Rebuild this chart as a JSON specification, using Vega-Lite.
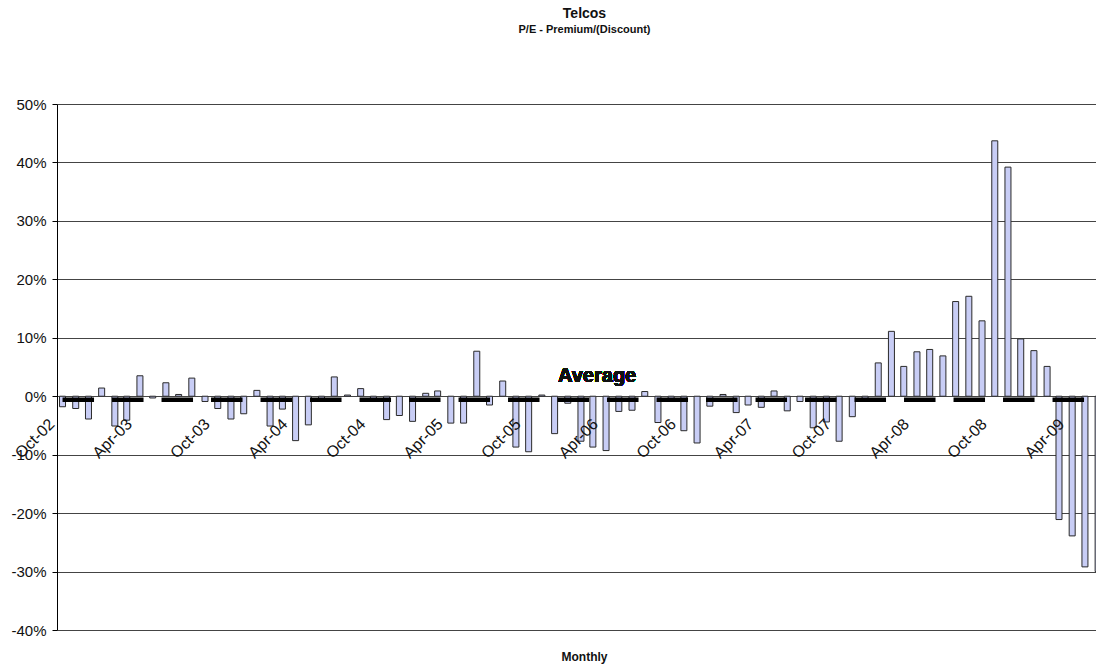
{
  "$schema": "https://vega.github.io/schema/vega-lite/v6.json",
  "width": 1039,
  "height": 526,
  "autosize": {"type": "none"},
  "padding": {"left": 57, "top": 104, "right": 0, "bottom": 35},
  "background": "white",
  "config": {"view": {"stroke": null}, "font": "Liberation Sans"},
  "title": {
    "text": "Telcos",
    "subtitle": "P/E - Premium/(Discount)",
    "anchor": "middle",
    "dx": 8,
    "offset": 62,
    "font": "Liberation Sans",
    "fontSize": 14,
    "fontWeight": "bold",
    "color": "#111",
    "subtitleFont": "Liberation Sans",
    "subtitleFontSize": 11,
    "subtitleFontWeight": "bold",
    "subtitleColor": "#111",
    "subtitlePadding": 3
  },
  "data": {
    "values": [
      {"month": "2002-10-01", "pe": -0.018, "avg": -0.006},
      {"month": "2002-11-01", "pe": -0.021, "avg": -0.006},
      {"month": "2002-12-01", "pe": -0.039, "avg": -0.006},
      {"month": "2003-01-01", "pe": 0.014, "avg": -0.006},
      {"month": "2003-02-01", "pe": -0.051, "avg": -0.006},
      {"month": "2003-03-01", "pe": -0.041, "avg": -0.006},
      {"month": "2003-04-01", "pe": 0.035, "avg": -0.006},
      {"month": "2003-05-01", "pe": -0.003, "avg": -0.006},
      {"month": "2003-06-01", "pe": 0.023, "avg": -0.006},
      {"month": "2003-07-01", "pe": 0.003, "avg": -0.006},
      {"month": "2003-08-01", "pe": 0.031, "avg": -0.006},
      {"month": "2003-09-01", "pe": -0.009, "avg": -0.006},
      {"month": "2003-10-01", "pe": -0.021, "avg": -0.006},
      {"month": "2003-11-01", "pe": -0.039, "avg": -0.006},
      {"month": "2003-12-01", "pe": -0.030, "avg": -0.006},
      {"month": "2004-01-01", "pe": 0.010, "avg": -0.006},
      {"month": "2004-02-01", "pe": -0.051, "avg": -0.006},
      {"month": "2004-03-01", "pe": -0.022, "avg": -0.006},
      {"month": "2004-04-01", "pe": -0.076, "avg": -0.006},
      {"month": "2004-05-01", "pe": -0.049, "avg": -0.006},
      {"month": "2004-06-01", "pe": -0.004, "avg": -0.006},
      {"month": "2004-07-01", "pe": 0.033, "avg": -0.006},
      {"month": "2004-08-01", "pe": 0.002, "avg": -0.006},
      {"month": "2004-09-01", "pe": 0.013, "avg": -0.006},
      {"month": "2004-10-01", "pe": -0.004, "avg": -0.006},
      {"month": "2004-11-01", "pe": -0.040, "avg": -0.006},
      {"month": "2004-12-01", "pe": -0.033, "avg": -0.006},
      {"month": "2005-01-01", "pe": -0.043, "avg": -0.006},
      {"month": "2005-02-01", "pe": 0.005, "avg": -0.006},
      {"month": "2005-03-01", "pe": 0.009, "avg": -0.006},
      {"month": "2005-04-01", "pe": -0.046, "avg": -0.006},
      {"month": "2005-05-01", "pe": -0.046, "avg": -0.006},
      {"month": "2005-06-01", "pe": 0.077, "avg": -0.006},
      {"month": "2005-07-01", "pe": -0.015, "avg": -0.006},
      {"month": "2005-08-01", "pe": 0.026, "avg": -0.006},
      {"month": "2005-09-01", "pe": -0.087, "avg": -0.006},
      {"month": "2005-10-01", "pe": -0.095, "avg": -0.006},
      {"month": "2005-11-01", "pe": 0.002, "avg": -0.006},
      {"month": "2005-12-01", "pe": -0.064, "avg": -0.006},
      {"month": "2006-01-01", "pe": -0.012, "avg": -0.006},
      {"month": "2006-02-01", "pe": -0.077, "avg": -0.006},
      {"month": "2006-03-01", "pe": -0.087, "avg": -0.006},
      {"month": "2006-04-01", "pe": -0.093, "avg": -0.006},
      {"month": "2006-05-01", "pe": -0.026, "avg": -0.006},
      {"month": "2006-06-01", "pe": -0.024, "avg": -0.006},
      {"month": "2006-07-01", "pe": 0.008, "avg": -0.006},
      {"month": "2006-08-01", "pe": -0.045, "avg": -0.006},
      {"month": "2006-09-01", "pe": -0.005, "avg": -0.006},
      {"month": "2006-10-01", "pe": -0.059, "avg": -0.006},
      {"month": "2006-11-01", "pe": -0.080, "avg": -0.006},
      {"month": "2006-12-01", "pe": -0.017, "avg": -0.006},
      {"month": "2007-01-01", "pe": 0.003, "avg": -0.006},
      {"month": "2007-02-01", "pe": -0.028, "avg": -0.006},
      {"month": "2007-03-01", "pe": -0.015, "avg": -0.006},
      {"month": "2007-04-01", "pe": -0.019, "avg": -0.006},
      {"month": "2007-05-01", "pe": 0.009, "avg": -0.006},
      {"month": "2007-06-01", "pe": -0.025, "avg": -0.006},
      {"month": "2007-07-01", "pe": -0.009, "avg": -0.006},
      {"month": "2007-08-01", "pe": -0.054, "avg": -0.006},
      {"month": "2007-09-01", "pe": -0.044, "avg": -0.006},
      {"month": "2007-10-01", "pe": -0.077, "avg": -0.006},
      {"month": "2007-11-01", "pe": -0.035, "avg": -0.006},
      {"month": "2007-12-01", "pe": -0.005, "avg": -0.006},
      {"month": "2008-01-01", "pe": 0.057, "avg": -0.006},
      {"month": "2008-02-01", "pe": 0.111, "avg": -0.006},
      {"month": "2008-03-01", "pe": 0.051, "avg": -0.006},
      {"month": "2008-04-01", "pe": 0.076, "avg": -0.006},
      {"month": "2008-05-01", "pe": 0.080, "avg": -0.006},
      {"month": "2008-06-01", "pe": 0.069, "avg": -0.006},
      {"month": "2008-07-01", "pe": 0.162, "avg": -0.006},
      {"month": "2008-08-01", "pe": 0.171, "avg": -0.006},
      {"month": "2008-09-01", "pe": 0.129, "avg": -0.006},
      {"month": "2008-10-01", "pe": 0.437, "avg": -0.006},
      {"month": "2008-11-01", "pe": 0.392, "avg": -0.006},
      {"month": "2008-12-01", "pe": 0.098, "avg": -0.006},
      {"month": "2009-01-01", "pe": 0.078, "avg": -0.006},
      {"month": "2009-02-01", "pe": 0.051, "avg": -0.006},
      {"month": "2009-03-01", "pe": -0.211, "avg": -0.006},
      {"month": "2009-04-01", "pe": -0.239, "avg": -0.006},
      {"month": "2009-05-01", "pe": -0.292, "avg": -0.006},
      {"month": "2009-06-01", "pe": -0.300, "avg": -0.006}
    ]
  },
  "layer": [
    {
      "mark": {"type": "bar", "size": 6, "fill": "#c8cdf5", "stroke": "#2a2a2a", "strokeWidth": 1, "clip": true},
      "encoding": {
        "x": {
          "field": "month",
          "type": "temporal",
          "scale": {
            "type": "utc",
            "nice": false,
            "padding": 0,
            "domain": [
              {"year": 2002, "month": 9, "date": 18, "utc": true},
              {"year": 2009, "month": 5, "date": 27, "utc": true}
            ]
          },
          "axis": {
            "values": [
              {"year": 2002, "month": 10, "date": 1, "utc": true},
              {"year": 2003, "month": 4, "date": 1, "utc": true},
              {"year": 2003, "month": 10, "date": 1, "utc": true},
              {"year": 2004, "month": 4, "date": 1, "utc": true},
              {"year": 2004, "month": 10, "date": 1, "utc": true},
              {"year": 2005, "month": 4, "date": 1, "utc": true},
              {"year": 2005, "month": 10, "date": 1, "utc": true},
              {"year": 2006, "month": 4, "date": 1, "utc": true},
              {"year": 2006, "month": 10, "date": 1, "utc": true},
              {"year": 2007, "month": 4, "date": 1, "utc": true},
              {"year": 2007, "month": 10, "date": 1, "utc": true},
              {"year": 2008, "month": 4, "date": 1, "utc": true},
              {"year": 2008, "month": 10, "date": 1, "utc": true},
              {"year": 2009, "month": 4, "date": 1, "utc": true}
            ],
            "format": "%b-%y",
            "zindex": 1,
            "labelAngle": -45,
            "labelAlign": "right",
            "labelBaseline": "middle",
            "labelOffset": -11,
            "labelPadding": 25,
            "ticks": false,
            "tickSize": 0,
            "domain": false,
            "grid": false,
            "offset": -233.8,
            "labelFont": "Liberation Sans",
            "labelFontSize": 16,
            "labelColor": "#111",
            "labelFlush": false,
            "labelOverlap": false,
            "title": "Monthly",
            "titleX": 527,
            "titleY": 260,
            "titleAlign": "center",
            "titleBaseline": "middle",
            "titleFont": "Liberation Sans",
            "titleFontSize": 12,
            "titleFontWeight": "bold",
            "titleColor": "#111"
          }
        },
        "y": {
          "field": "pe",
          "type": "quantitative",
          "scale": {"domain": [-0.4, 0.5], "nice": false, "padding": 0},
          "axis": {
            "values": [-0.4, -0.3, -0.2, -0.1, 0, 0.1, 0.2, 0.3, 0.4, 0.5],
            "labelExpr": "round(datum.value * 100) + '%'",
            "grid": true,
            "gridColor": "#444",
            "gridWidth": 1,
            "domainColor": "#000",
            "domainWidth": 1,
            "tickColor": "#000",
            "tickSize": 5,
            "labelPadding": 6,
            "labelFont": "Liberation Sans",
            "labelFontSize": 15,
            "labelColor": "#111",
            "title": null
          }
        }
      }
    },
    {
      "mark": {"type": "line", "color": "#000", "strokeWidth": 4.5, "strokeDash": [31.5, 18], "clip": true},
      "encoding": {
        "x": {"field": "month", "type": "temporal"},
        "y": {"field": "avg", "type": "quantitative"}
      }
    },
    {
      "mark": {"type": "text", "text": "Average", "font": "Liberation Sans", "fontSize": 20, "fontWeight": "bold", "color": "#111", "align": "center", "baseline": "alphabetic"},
      "encoding": {
        "x": {"datum": {"year": 2006, "month": 3, "date": 11, "utc": true}, "type": "temporal"},
        "y": {"datum": 0.025, "type": "quantitative"}
      }
    }
  ]
}
